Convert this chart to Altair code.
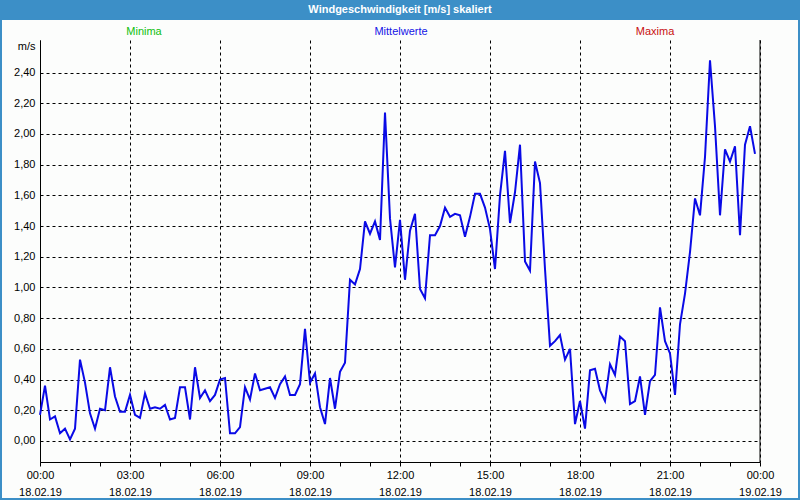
import altair as alt
import pandas as pd

# ---- data (10-minute mean wind speed, m/s) ----
start_time = "2019-02-18 00:00"
wind_mean = [
    0.17, 0.36, 0.14, 0.16, 0.05, 0.08, 0.01, 0.08, 0.53, 0.38, 0.18, 0.08,
    0.21, 0.20, 0.48, 0.29, 0.19, 0.19, 0.30, 0.17, 0.15, 0.31, 0.21, 0.22,
    0.21, 0.235, 0.14, 0.15, 0.35, 0.35, 0.14, 0.48, 0.28, 0.33, 0.26, 0.30,
    0.40, 0.41, 0.05, 0.05, 0.09, 0.35, 0.27, 0.44, 0.33, 0.34, 0.35, 0.28,
    0.37, 0.42, 0.30, 0.30, 0.37, 0.73, 0.38, 0.44, 0.22, 0.11, 0.41, 0.21,
    0.45, 0.51, 1.05, 1.02, 1.12, 1.43, 1.35, 1.43, 1.31, 2.14, 1.45, 1.13,
    1.44, 1.05, 1.37, 1.48, 0.99, 0.93, 1.34, 1.34, 1.40, 1.52, 1.46, 1.48,
    1.47, 1.33, 1.46, 1.61, 1.61, 1.52, 1.38, 1.12, 1.60, 1.89, 1.42, 1.62,
    1.93, 1.17, 1.11, 1.82, 1.68, 1.12, 0.62, 0.65, 0.69, 0.53, 0.60, 0.11,
    0.26, 0.08, 0.46, 0.47, 0.33, 0.26, 0.50, 0.43, 0.68, 0.65, 0.24, 0.26,
    0.42, 0.17, 0.39, 0.43, 0.87, 0.65, 0.57, 0.30, 0.76, 0.96, 1.23, 1.58,
    1.47, 1.85, 2.48, 2.05, 1.47, 1.90, 1.82, 1.92, 1.34, 1.93, 2.05, 1.87,
]
y_ticks = [0.0, 0.2, 0.4, 0.6, 0.8, 1.0, 1.2, 1.4, 1.6, 1.8, 2.0, 2.2, 2.4]
x_tick_hours = list(range(0, 25))
title_text = "Windgeschwindigkeit [m/s] skaliert"
legend_names = ["Minima", "Mittelwerte", "Maxima"]
legend_colors = ["#10c010", "#1414e6", "#c81010"]

times = pd.date_range(start_time, periods=len(wind_mean), freq="10min")
df = pd.DataFrame({"time": times, "value": wind_mean})

FONT = "Liberation Sans"
BLUE_BAR = "#3c8fc7"
LINE_BLUE = "#0a0ae6"
W, H = 720, 422


def hour_dt(h):
    if h >= 24:
        return alt.DateTime(year=2019, month=2, date=19, hours=h - 24, minutes=0)
    return alt.DateTime(year=2019, month=2, date=18, hours=h, minutes=0)


x_values = [hour_dt(h) for h in x_tick_hours]

x_enc = alt.X(
    "time:T",
    title=None,
    scale=alt.Scale(domain=[hour_dt(0), hour_dt(24)], nice=False),
    axis=alt.Axis(
        values=x_values,
        labelExpr="hours(datum.value) % 3 === 0 ? [timeFormat(datum.value, '%H:%M'), timeFormat(datum.value, '%d.%m.%y')] : ''",
        labelOverlap=False,
        labelFlush=False,
        labelBound=False,
        labelAngle=0,
        labelFont=FONT,
        labelFontSize=11,
        labelColor="black",
        labelLineHeight=17,
        labelPadding=3,
        tickSize=4,
        tickColor="black",
        domainColor="black",
        grid=True,
        gridColor="black",
        gridDash=[3, 3],
        gridOpacity={"condition": {"test": "hours(datum.value) % 3 === 0", "value": 1}, "value": 0},
    ),
)

y_enc = alt.Y(
    "value:Q",
    scale=alt.Scale(domain=[-0.137, 2.612], nice=False, zero=False),
    axis=alt.Axis(
        values=y_ticks,
        labelExpr="replace(format(datum.value, '.2f'), '.', ',')",
        ticks=False,
        labelPadding=5,
        labelFont=FONT,
        labelFontSize=11,
        labelColor="black",
        domainColor="black",
        grid=True,
        gridColor="black",
        gridDash=[3, 3],
        title="m/s",
        titleAngle=0,
        titleAlign="right",
        titleBaseline="middle",
        titleX=-5,
        titleY=6,
        titleFont=FONT,
        titleFontSize=11,
        titleFontWeight="normal",
        titleColor="black",
    ),
)

line = alt.Chart(df).mark_line(color=LINE_BLUE, strokeWidth=2).encode(x=x_enc, y=y_enc)

one = pd.DataFrame({"a": [0]})

band = alt.Chart(one).mark_rect(color=BLUE_BAR).encode(
    x=alt.value(-40), x2=alt.value(W + 40), y=alt.value(-40), y2=alt.value(-20)
)
left_border = alt.Chart(one).mark_rect(color=BLUE_BAR).encode(
    x=alt.value(-40), x2=alt.value(-38), y=alt.value(-40), y2=alt.value(H + 38)
)
right_border = alt.Chart(one).mark_rect(color=BLUE_BAR).encode(
    x=alt.value(W + 38), x2=alt.value(W + 40), y=alt.value(-40), y2=alt.value(H + 38)
)
bottom_border = alt.Chart(one).mark_rect(color=BLUE_BAR).encode(
    x=alt.value(-40), x2=alt.value(W + 40), y=alt.value(H + 36), y2=alt.value(H + 38)
)
right_frame = alt.Chart(one).mark_rule(color="black").encode(
    x=alt.value(W), y=alt.value(0), y2=alt.value(H)
)

title = alt.Chart(one).mark_text(
    text=title_text, font=FONT, fontSize=11, fontWeight="bold", color="white",
    align="center", baseline="middle",
).encode(x=alt.value(W / 2), y=alt.value(-30))

leg_min = alt.Chart(one).mark_text(
    text=legend_names[0], font=FONT, fontSize=11, color=legend_colors[0],
    align="center", baseline="middle",
).encode(x=alt.value(104), y=alt.value(-8))
leg_mean = alt.Chart(one).mark_text(
    text=legend_names[1], font=FONT, fontSize=11, color=legend_colors[1],
    align="center", baseline="middle",
).encode(x=alt.value(361), y=alt.value(-8))
leg_max = alt.Chart(one).mark_text(
    text=legend_names[2], font=FONT, fontSize=11, color=legend_colors[2],
    align="center", baseline="middle",
).encode(x=alt.value(615), y=alt.value(-8))

chart = alt.layer(
    band, left_border, right_border, bottom_border, right_frame,
    line, title, leg_min, leg_mean, leg_max,
).properties(
    width=W, height=H, padding=0, background="#fcfdfc",
).configure_view(stroke=None)

chart.save("out.html", embed_options={"renderer": "svg", "actions": False})
